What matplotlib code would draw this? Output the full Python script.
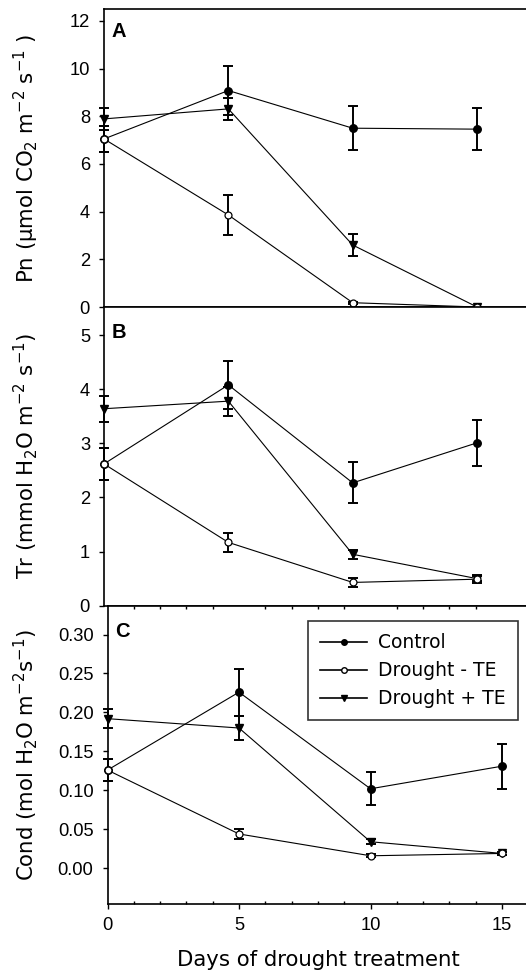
import numpy as np
import matplotlib
matplotlib.use("Agg")
import matplotlib.pyplot as plt
from matplotlib.ticker import FixedLocator, NullLocator
from matplotlib.lines import Line2D

plt.rcParams['font.family'] = ['Liberation Sans', 'DejaVu Sans']
plt.rcParams['mathtext.default'] = 'regular'
FS = 13.2
LAB_FONT = ['DejaVu Sans']
LAB_FS = 15.3

days = [0, 5, 10, 15]

# Panel A: net photosynthesis
pn_ctrl = [7.05, 9.08, 7.50, 7.46]
pn_ctrl_err = [0.56, 1.03, 0.93, 0.88]
pn_dm = [7.05, 3.86, 0.18, 0.0]
pn_dm_err = [0.56, 0.84, 0.05, 0.0]
pn_dp = [7.89, 8.31, 2.60, 0.0]
pn_dp_err = [0.47, 0.45, 0.45, 0.0]

# Panel B: transpiration
tr_ctrl = [2.62, 4.08, 2.27, 3.01]
tr_ctrl_err = [0.29, 0.44, 0.38, 0.42]
tr_dm = [2.62, 1.17, 0.43, 0.49]
tr_dm_err = [0.29, 0.17, 0.08, 0.07]
tr_dp = [3.64, 3.78, 0.95, 0.50]
tr_dp_err = [0.24, 0.27, 0.08, 0.05]

# Panel C: stomatal conductance
cd_ctrl = [0.126, 0.226, 0.102, 0.131]
cd_ctrl_err = [0.014, 0.030, 0.021, 0.029]
cd_dm = [0.126, 0.044, 0.016, 0.019]
cd_dm_err = [0.014, 0.006, 0.002, 0.002]
cd_dp = [0.192, 0.180, 0.034, 0.019]
cd_dp_err = [0.012, 0.015, 0.003, 0.002]

W, H = 526, 973
fig = plt.figure(figsize=(W / 100, H / 100), dpi=100)


def fx(px):
    return px / W


def fy(px):
    return 1 - px / H


axA = fig.add_axes([fx(104), fy(307), fx(17 * 24.87), (307 - 9) / H])
axB = fig.add_axes([fx(104), fy(605.7), fx(17 * 24.87), (605.7 - 307) / H])
axC = fig.add_axes([fx(107.5), fy(904), fx(16 * 26.3), (904 - 605.7) / H])


def draw(ax, ctrl, ctrl_e, dm, dm_e, dp, dp_e):
    for y, e in [(ctrl, ctrl_e), (dm, dm_e), (dp, dp_e)]:
        ax.errorbar(days, y, yerr=e, fmt='none', ecolor='black', elinewidth=1.4,
                    capsize=3.3, capthick=1.4, clip_on=False, zorder=2)
    ax.plot(days, ctrl, '-o', color='black', lw=0.8, ms=5.4, mfc='black',
            clip_on=False, zorder=3)
    ax.plot(days, dp, '-v', color='black', lw=0.8, ms=5.6, mfc='black',
            clip_on=False, zorder=3)
    ax.plot(days, dm, '-o', color='black', lw=0.8, ms=5.0, mfc='white',
            mew=0.9, clip_on=False, zorder=4)
    for s in ax.spines.values():
        s.set_linewidth(1.2)
    ax.tick_params(axis='y', direction='out', length=3.6, width=1.0,
                   labelsize=FS, pad=6.5)


draw(axA, pn_ctrl, pn_ctrl_err, pn_dm, pn_dm_err, pn_dp, pn_dp_err)
draw(axB, tr_ctrl, tr_ctrl_err, tr_dm, tr_dm_err, tr_dp, tr_dp_err)
draw(axC, cd_ctrl, cd_ctrl_err, cd_dm, cd_dm_err, cd_dp, cd_dp_err)

axA.set_xlim(0, 17)
axA.set_ylim(0, 12.5)
axA.set_yticks([0, 2, 4, 6, 8, 10, 12])
axA.set_xticks([])

axB.set_xlim(0, 17)
axB.set_ylim(0, 5.52)
axB.set_yticks([0, 1, 2, 3, 4, 5])
axB.set_xticks([])

c_ticks = [0.0, 0.05, 0.10, 0.15, 0.20, 0.25, 0.30]
axC.set_xlim(0, 16)
axC.set_ylim(-0.0459, 0.337)
axC.set_yticks(c_ticks)
axC.set_yticklabels([f"{v:.2f}" for v in c_ticks])
axC.set_xticks([0, 5, 10, 15])
axC.xaxis.set_minor_locator(FixedLocator([1, 2, 3, 4, 6, 7, 8, 9, 11, 12, 13, 14]))
axC.yaxis.set_minor_locator(NullLocator())
axC.tick_params(axis='x', which='major', direction='out', length=3.6, width=1.0,
                labelsize=FS, pad=6)
axC.tick_params(axis='x', which='minor', direction='in', length=2.5, width=1.0,
                top=True)
axC.set_xlabel("Days of drought treatment", fontsize=LAB_FS, family=LAB_FONT,
               labelpad=11)

for ax, letter, dy in [(axA, 'A', 13), (axB, 'B', 16), (axC, 'C', 16)]:
    ax.annotate(letter, xy=(0, 1), xycoords='axes fraction', xytext=(8, -dy),
                textcoords='offset pixels', ha='left', va='top',
                fontsize=14.5, fontweight='bold')

ylabels = [
    (axA, "Pn (µmol CO$_2$ m$^{-2}$ s$^{-1}$ )"),
    (axB, "Tr (mmol H$_2$O m$^{-2}$ s$^{-1}$)"),
    (axC, "Cond (mol H$_2$O m$^{-2}$s$^{-1}$)"),
]
for ax, lab in ylabels:
    pos = ax.get_position()
    fig.text(fx(26), (pos.y0 + pos.y1) / 2, lab, rotation=90, ha='center',
             va='center', fontsize=LAB_FS, family=LAB_FONT)

handles = [
    Line2D([], [], color='black', lw=1.2, marker='o', ms=4, mfc='black'),
    Line2D([], [], color='black', lw=1.2, marker='o', ms=4, mfc='white'),
    Line2D([], [], color='black', lw=1.2, marker='v', ms=4, mfc='black'),
]
leg = axC.legend(handles, ["Control", "Drought - TE", "Drought + TE"],
                 loc='upper right', bbox_to_anchor=(fx(518), fy(621)),
                 bbox_transform=fig.transFigure, borderaxespad=0,
                 prop={'family': LAB_FONT, 'size': 13.5},
                 frameon=True, fancybox=False, handlelength=2.5,
                 handletextpad=0.6, labelspacing=0.48, borderpad=0.65)
leg.get_frame().set_edgecolor('black')
leg.get_frame().set_linewidth(1.2)

fig.savefig("out.png", dpi=100)
